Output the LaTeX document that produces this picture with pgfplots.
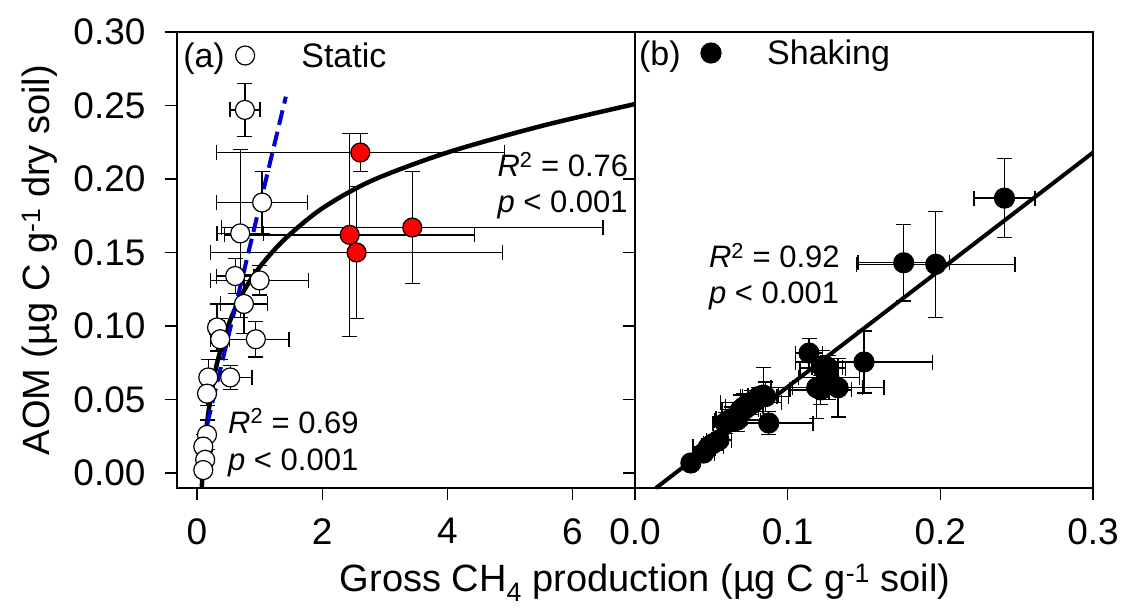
\documentclass[border=0pt]{standalone}
\usepackage{fontspec}
\setmainfont{Liberation Sans}
\usepackage{pgfplots}
\pgfplotsset{compat=1.18}
\usetikzlibrary{calc}

\definecolor{fitblue}{RGB}{0,0,205}
\definecolor{ptred}{RGB}{255,0,0}

\pgfplotsset{
  panel/.style={
    scale only axis, width=458pt, height=456pt,
    ymin=-0.0102, ymax=0.30,
    ytick={0,0.05,0.10,0.15,0.20,0.25,0.30},
    tick align=outside, xtick pos=bottom, ytick pos=left,
    major tick length=12pt,
    axis line style={line width=1.3pt},
    every tick/.style={black, line width=1.3pt},
    tick label style={font=\fontsize{37pt}{44pt}\selectfont},
    xticklabel style={yshift=-15pt},
    yticklabel style={xshift=-16pt},
    /pgf/number format/assume math mode=true,
    clip=false,
    legend style={draw=none, fill=none, inner sep=0pt, outer sep=0pt,
      font=\fontsize{34pt}{40pt}\selectfont, nodes={inner sep=0pt}},
    legend image code/.code={\path (-10pt,0pt) (56pt,0pt); \draw[##1] plot coordinates {(0pt,0pt)};},
  },
  eb/.style={error bars/.cd, x dir=both, x explicit, y dir=both, y explicit,
    error bar style={line width=1.3pt, black},
    error mark=-,
    error mark options={rotate=90, black, line width=1.3pt, mark size=7.5pt}},
}
\tikzset{annot/.style={font=\fontsize{31pt}{37pt}\selectfont, anchor=base west, inner sep=0pt}}

\begin{document}
\begin{tikzpicture}
\path[use as bounding box] (-177pt,-122pt) rectangle (945pt,488pt);

% (a) static incubation
\begin{axis}[panel, name=a, at={(0,0)}, anchor=south west,
    xmin=-0.32, xmax=7,
    xtick={0,2,4,6},
    yticklabel style={/pgf/number format/.cd, fixed, fixed zerofill, precision=2},
    legend style={at={(axis cs:0.606,0.284)}, anchor=west},
]
\addplot[only marks, mark=*, mark size=9.5pt,
    mark options={fill=white, draw=black, line width=1.2pt}, eb]
  coordinates {
    (0.765,0.247) +- (0.24,0.018)
    (1.04,0.184) +- (0.73,0.021)
    (0.69,0.163) +- (0.37,0.057)
    (0.61,0.134) +- (0.30,0.012)
    (1.00,0.131) +- (0.78,0.010)
    (0.75,0.115) +- (0.38,0.020)
    (0.32,0.099) +- (0.12,0.016)
    (0.37,0.091) +- (0.15,0.014)
    (0.94,0.091) +- (0.53,0.012)
    (0.18,0.065) +- (0.10,0.012)
    (0.53,0.065) +- (0.35,0.008)
    (0.16,0.054) +- (0.08,0.008)
    (0.16,0.026) +- (0.05,0.010)
    (0.10,0.018) +- (0.06,0.008)
    (0.13,0.009) +- (0.05,0.006)
    (0.10,0.002) +- (0.04,0.004)
  };
\addlegendentry{Static}
\addplot[forget plot, only marks, mark=*, mark size=9.5pt,
    mark options={fill=ptred, draw=black, line width=1.2pt}, eb]
  coordinates {
    (2.61,0.218) +- (2.30,0.013)
    (2.44,0.162) +- (2.00,0.069)
    (2.55,0.150) +- (2.33,0.045)
    (3.44,0.167) +- (3.05,0.038)
  };
% fitted curve, all points
\addplot[forget plot, black, line width=4.5pt, smooth] coordinates {
    (0.076,-0.010) (0.09,0.000) (0.12,0.017) (0.16,0.034) (0.22,0.052)
    (0.30,0.071) (0.40,0.087) (0.55,0.106) (0.75,0.124) (1.0,0.140)
    (1.4,0.159) (2.0,0.180) (2.8,0.199) (4.0,0.218) (5.5,0.236) (7.0,0.251)
  };
% linear fit, open circles only
\addplot[forget plot, fitblue, line width=4pt, dash pattern=on 15pt off 7pt]
  coordinates {(0.08,0.0185) (1.42,0.256)};
\node[font=\fontsize{34pt}{40pt}\selectfont, anchor=base west, inner sep=0pt] at (axis cs:-0.223,0.276) {(a)};
\node[annot] at (axis cs:4.80,0.2014) {\textit{R}\textsuperscript{2} = 0.76};
\node[annot] at (axis cs:4.80,0.177) {\textit{p} < 0.001};
\node[annot] at (axis cs:0.494,0.0272) {\textit{R}\textsuperscript{2} = 0.69};
\node[annot] at (axis cs:0.494,0.002) {\textit{p} < 0.001};
\end{axis}

% (b) shaking incubation
\begin{axis}[panel, name=b, at={(a.south east)}, anchor=south west,
    xmin=0, xmax=0.3,
    xtick={0,0.1,0.2,0.3},
    xticklabel style={/pgf/number format/.cd, fixed, fixed zerofill, precision=1},
    yticklabels={},
    legend style={at={(axis cs:0.0431,0.2857)}, anchor=west},
]
\addplot[only marks, mark=*, mark size=10pt,
    mark options={fill=black, draw=black, line width=1.2pt}, eb]
  coordinates {
    (0.242,0.187) +- (0.020,0.027)
    (0.176,0.143) +- (0.030,0.026)
    (0.197,0.142) +- (0.052,0.036)
    (0.114,0.0816) +- (0.009,0.010)
    (0.150,0.0755) +- (0.045,0.021)
    (0.123,0.0714) +- (0.015,0.012)
    (0.119,0.058) +- (0.030,0.021)
    (0.133,0.058) +- (0.030,0.020)
    (0.127,0.065) +- (0.020,0.015)
    (0.0856,0.052) +- (0.015,0.010)
    (0.0876,0.034) +- (0.029,0.008)
    (0.084,0.053) +- (0.010,0.019)
    (0.076,0.048) +- (0.020,0.008)
    (0.069,0.043) +- (0.012,0.010)
    (0.063,0.037) +- (0.010,0.008)
    (0.059,0.034) +- (0.008,0.007)
    (0.067,0.036) +- (0.015,0.008)
    (0.055,0.0224) +- (0.008,0.005)
    (0.048,0.0177) +- (0.010,0.006)
    (0.045,0.0136) +- (0.007,0.004)
    (0.0366,0.0068) +- (0.004,0.003)
    (0.051,0.020) +- (0.006,0.005)
    (0.0713,0.045) +- (0.012,0.009)
    (0.081,0.052) +- (0.012,0.006)
    (0.1216,0.0565) +- (0.020,0.010)
    (0.126,0.072) +- (0.010,0.008)
  };
\addlegendentry{Shaking}
\addplot[forget plot, black, line width=4pt] coordinates {(0.0137,-0.0102) (0.300,0.218)};
\node[font=\fontsize{34pt}{40pt}\selectfont, anchor=base west, inner sep=0pt] at (axis cs:0.0026,0.277) {(b)};
\node[annot] at (axis cs:0.0484,0.1395) {\textit{R}\textsuperscript{2} = 0.92};
\node[annot] at (axis cs:0.0484,0.1150) {\textit{p} < 0.001};
\end{axis}

% shared axis titles
\node[rotate=90, anchor=base, font=\fontsize{38pt}{45pt}\selectfont, inner sep=0pt]
  at ($(a.south west)!0.5!(a.north west)+(-127pt,0)$)
  {AOM (µg C g\textsuperscript{-1} dry soil)};
\node[anchor=base, font=\fontsize{38pt}{45pt}\selectfont, inner sep=0pt]
  at ([xshift=10pt, yshift=-104pt]a.south east)
  {Gross CH\textsubscript{4} production (µg C g\textsuperscript{-1} soil)};
\end{tikzpicture}
\end{document}
